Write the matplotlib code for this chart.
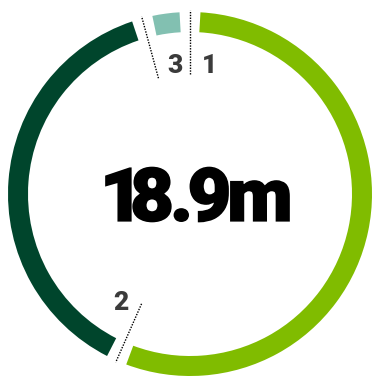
import numpy as np
import matplotlib
matplotlib.use("Agg")
import matplotlib.pyplot as plt
from matplotlib.patches import Wedge, PathPatch
from matplotlib.textpath import TextPath
from matplotlib.font_manager import FontProperties
import matplotlib.transforms as mtransforms

# data
labels = ["1", "2", "3"]
values = [10.7, 7.4, 0.8]
colors = ["#80bc00", "#00452c", "#82c0b1"]
total_label = "18.9m"

W, H = 372, 376
cx, cy = 190, H - 194
r_out, ring = 182, 20
half_gap = 3.3

fig = plt.figure(figsize=(W / 100, H / 100), dpi=100)
ax = fig.add_axes([0, 0, 1, 1])
ax.set_xlim(0, W)
ax.set_ylim(0, H)
ax.set_aspect("equal")
ax.axis("off")

frac = np.array(values) / sum(values)
ends = np.cumsum(frac) * 360
starts = ends - frac * 360

for lab, a0, a1, c in zip(labels, starts, ends, colors):
    # clockwise from top -> matplotlib angles
    w = Wedge((cx, cy), r_out, 90 - (a1 - half_gap), 90 - (a0 + half_gap),
              width=ring, facecolor=c, edgecolor="none")
    ax.add_patch(w)
    # dotted separator at segment start
    t = np.deg2rad(a0)
    rr = np.array([120, 184])
    ax.plot(cx + rr * np.sin(t), cy + rr * np.cos(t), color="black",
            lw=1, ls=(0, (1, 1)))
    # label just after the start
    tl = np.deg2rad(a0 + 8.5)
    ax.text(cx + 129 * np.sin(tl), cy + 129 * np.cos(tl), lab,
            ha="center", va="center", fontsize=19, fontweight="black",
            family="Roboto", color="#3b3b3b")

# big centre number, tight tracking
fp = FontProperties(family="Roboto", weight="black")
paths = []
x = 0
for ch in total_label:
    p = TextPath((x, 0), ch, size=1, prop=fp)
    paths.append(p)
    e = TextPath((0, 0), ch, size=1, prop=fp).get_extents()
    x += e.x1 - 0.01
ext = [p.get_extents() for p in paths]
x0 = min(e.x0 for e in ext)
x1 = max(e.x1 for e in ext)
y0 = min(e.y0 for e in ext)
y1 = max(e.y1 for e in ext)
tw, th = 183, 54
tr = (mtransforms.Affine2D().translate(-x0, -y0)
      .scale(tw / (x1 - x0), th / (y1 - y0))
      .translate(106, H - 221.5))
for p in paths:
    ax.add_patch(PathPatch(p, facecolor="black", edgecolor="black", lw=1.2,
                           transform=tr + ax.transData))

fig.savefig("out.png", dpi=100)
